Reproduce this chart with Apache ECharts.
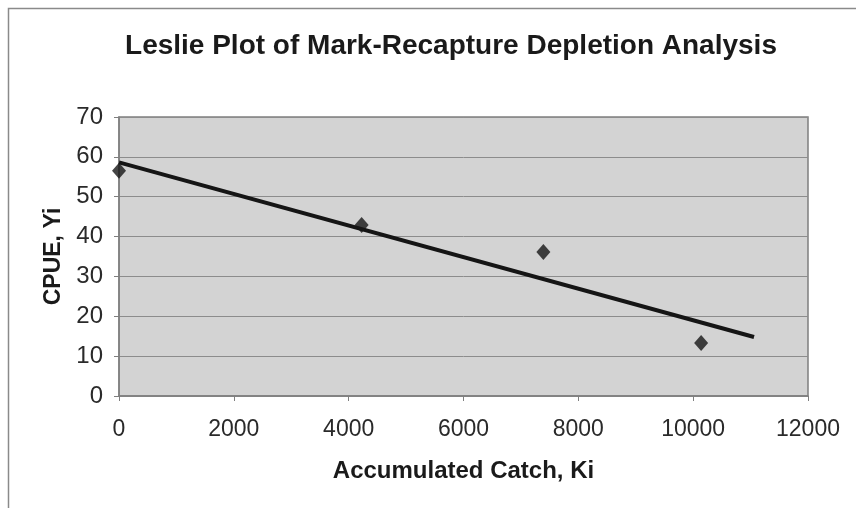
<!DOCTYPE html>
<html>
<head>
<meta charset="utf-8">
<script src="https://cdn.jsdelivr.net/npm/echarts@6/dist/echarts.min.js"></script>
<style>
  html, body { margin: 0; padding: 0; background: #fff; }
  #chart { width: 856px; height: 508px; }
</style>
</head>
<body>
<div id="chart"></div>
<script>
// Observed depletion samples: accumulated catch vs. catch per unit effort
const catchK = [0, 4226, 7391, 10139];
const cpueY = [56.5, 42.9, 36.1, 13.3];

// Fitted Leslie regression line endpoints
const fitK = [0, 11060];
const fitY = [58.6, 14.8];

// Axis ticks
const xTicks = [0, 2000, 4000, 6000, 8000, 10000, 12000];
const yTicks = [0, 10, 20, 30, 40, 50, 60, 70];

const FONT = '"Liberation Sans", Arial, sans-serif';

const chart = echarts.init(document.getElementById('chart'), null, { renderer: 'canvas' });

chart.setOption({
  backgroundColor: '#ffffff',
  animation: false,
  graphic: [
    {
      type: 'rect',
      shape: { x: 8.5, y: 8.5, width: 900, height: 600 },
      style: { fill: 'none', stroke: '#8a8a8a', lineWidth: 1.5 },
      z: -10
    }
  ],
  title: {
    text: 'Leslie Plot of Mark-Recapture Depletion Analysis',
    left: 446,
    top: 27,
    textAlign: 'center',
    textStyle: { fontFamily: FONT, fontSize: 28, fontWeight: 'bold', color: '#1a1a1a' }
  },
  grid: {
    left: 119, top: 117, right: 48, bottom: 112,
    show: true,
    backgroundColor: '#d3d3d3',
    borderColor: '#7f7f7f',
    borderWidth: 1.5
  },
  xAxis: {
    type: 'value',
    min: xTicks[0],
    max: xTicks[xTicks.length - 1],
    interval: 2000,
    name: 'Accumulated Catch, Ki',
    nameLocation: 'middle',
    nameGap: 63,
    nameTextStyle: { fontFamily: FONT, fontSize: 24, fontWeight: 'bold', color: '#1a1a1a' },
    axisLine: { show: true, lineStyle: { color: '#7f7f7f', width: 1.5 } },
    axisTick: { show: true, inside: false, length: 5, lineStyle: { color: '#7f7f7f' } },
    axisLabel: {
      fontFamily: FONT, fontSize: 23, color: '#2a2a2a', margin: 22,
      formatter: v => String(v)
    },
    splitLine: { show: false }
  },
  yAxis: {
    type: 'value',
    min: yTicks[0],
    max: yTicks[yTicks.length - 1],
    interval: 10,
    name: 'CPUE, Yi',
    nameLocation: 'middle',
    nameGap: 51,
    nameRotate: 90,
    nameTextStyle: { fontFamily: FONT, fontSize: 23, fontWeight: 'bold', color: '#1a1a1a' },
    axisLine: { show: true, lineStyle: { color: '#7f7f7f', width: 1.5 } },
    axisTick: { show: true, inside: false, length: 5, lineStyle: { color: '#7f7f7f' } },
    axisLabel: { fontFamily: FONT, fontSize: 24, color: '#2a2a2a', margin: 16 },
    splitLine: { show: true, lineStyle: { color: '#8c8c8c', width: 1 } }
  },
  series: [
    {
      name: 'Fit',
      type: 'line',
      data: fitK.map((k, i) => [k, fitY[i]]),
      symbol: 'none',
      lineStyle: { color: '#151515', width: 4 },
      z: 3
    },
    {
      name: 'CPUE',
      type: 'scatter',
      data: catchK.map((k, i) => [k, cpueY[i]]),
      symbol: 'diamond',
      symbolSize: [14, 16],
      itemStyle: { color: '#161616' },
      z: 4
    }
  ]
});
</script>
</body>
</html>
